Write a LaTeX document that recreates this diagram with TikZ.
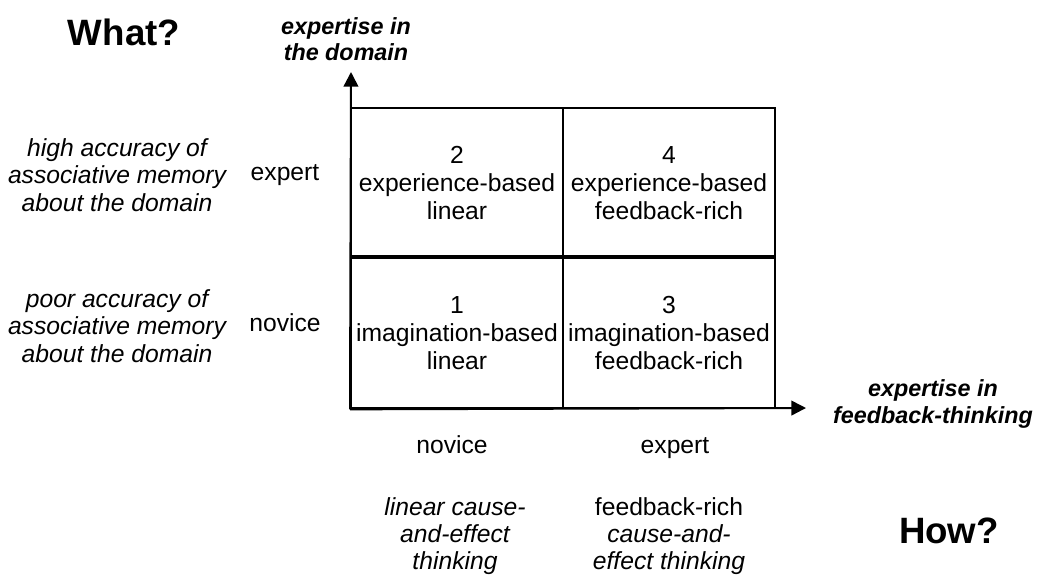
\documentclass[tikz,border=0pt]{standalone}
\usepackage{fontspec}
\setmainfont{Liberation Sans}
\usetikzlibrary{arrows.meta,positioning}

\begin{document}
\begin{tikzpicture}[
    x=0.75pt, y=-0.75pt,
    cell/.style={draw, line width=1.5pt, minimum width=159pt,
                 minimum height=113pt, inner sep=0pt, align=center,
                 font=\fontsize{18.5}{21}\selectfont},
    lbl/.style={align=center, font=\fontsize{18.5}{20.5}\selectfont},
    level/.style={lbl, text height=0.75em, text depth=0.25em},
    note/.style={align=center, font=\fontsize{18.5}{20.5}\selectfont\itshape},
    axlbl/.style={align=center, font=\fontsize{17.5}{20}\selectfont\bfseries\itshape},
    big/.style={font=\fontsize{27.5}{30}\selectfont\bfseries},
    axis/.style={line width=1.5pt, -{Triangle[length=11pt,width=11pt]}}
  ]
    \useasboundingbox (0,0) rectangle (1038,576);
    % the four cells
    \node[cell] (c2) at (457,183) {2\\experience-based\\linear};
    \node[cell] (c4) at (669,183) {4\\experience-based\\feedback-rich};
    \node[cell] (c1) at (457,333) {1\\imagination-based\\linear};
    \node[cell] (c3) at (669,333) {3\\imagination-based\\feedback-rich};
    \draw[line width=3pt] (c1.north west) -- (c3.north east);
    % axes
    \coordinate (ytip) at (351,72);
    \coordinate (xtip) at (806,408);
    \draw[axis] (c1.south west) -- (ytip);
    \draw[axis] (c1.south west) -- (xtip);
    \node[axlbl] (ylab) at (346,39) {expertise in\\the domain};
    \node[axlbl] (xlab) at (933,404) {expertise in\\feedback-thinking};
    % vertical axis levels
    \node[level] (yexp) at (285,177) {expert};
    \node[level] (ynov) at (285,328) {novice};
    \node[note] (yhigh) at (117,175) {high accuracy of\\associative memory\\about the domain};
    \node[note] (ypoor) at (117,326) {poor accuracy of\\associative memory\\about the domain};
    % horizontal axis levels
    \node[level] (xnov) at (452,450) {novice};
    \node[level] (xexp) at (675,450) {expert};
    \node[note] (xlin) at (455,536) {linear cause-\\and-effect\\thinking};
    \node[lbl] (xfb) at (669,536) {feedback-rich\\\itshape cause-and-\\\itshape effect thinking};
    % questions
    \node[big] (what) at (124,32) {What?};
    \node[big] (how) at (949,531) {How?};
\end{tikzpicture}
\end{document}
